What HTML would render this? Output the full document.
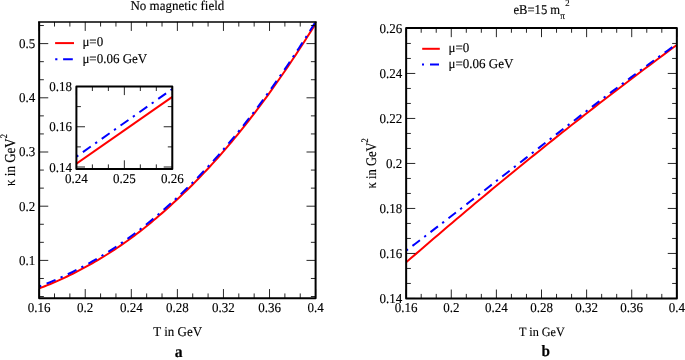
<!DOCTYPE html>
<html><head><meta charset="utf-8"><title>plot</title>
<style>html,body{margin:0;padding:0;background:#fff}svg{display:block}text{font-family:"Liberation Serif",serif;fill:#000;stroke:#000;stroke-width:0.13px;text-rendering:geometricPrecision}</style>
</head><body>
<svg width="685" height="360" viewBox="0 0 685 360">
<rect width="685" height="360" fill="#fff"/>
<clipPath id="c1"><rect x="39.15" y="21.85" width="276.45000000000005" height="276.29999999999995"/></clipPath>
<g clip-path="url(#c1)">
<path d="M39.15,288.42 L41.94,287.35 L44.73,286.25 L47.53,285.12 L50.32,283.97 L53.11,282.79 L55.90,281.59 L58.70,280.35 L61.49,279.09 L64.28,277.80 L67.07,276.49 L69.87,275.14 L72.66,273.77 L75.45,272.37 L78.24,270.94 L81.04,269.48 L83.83,267.99 L86.62,266.47 L89.41,264.92 L92.21,263.34 L95.00,261.74 L97.79,260.10 L100.58,258.43 L103.38,256.73 L106.17,255.00 L108.96,253.24 L111.75,251.44 L114.55,249.62 L117.34,247.76 L120.13,245.87 L122.92,243.94 L125.72,241.98 L128.51,239.99 L131.30,237.96 L134.09,235.89 L136.88,233.78 L139.68,231.63 L142.47,229.44 L145.26,227.22 L148.05,224.95 L150.85,222.65 L153.64,220.32 L156.43,217.95 L159.22,215.55 L162.02,213.12 L164.81,210.66 L167.60,208.17 L170.39,205.65 L173.19,203.11 L175.98,200.53 L178.77,197.94 L181.56,195.31 L184.36,192.64 L187.15,189.93 L189.94,187.19 L192.73,184.42 L195.53,181.60 L198.32,178.75 L201.11,175.86 L203.90,172.93 L206.70,169.96 L209.49,166.96 L212.28,163.92 L215.07,160.84 L217.87,157.72 L220.66,154.56 L223.45,151.36 L226.24,148.12 L229.03,144.85 L231.83,141.53 L234.62,138.18 L237.41,134.79 L240.20,131.35 L243.00,127.88 L245.79,124.37 L248.58,120.82 L251.37,117.22 L254.17,113.59 L256.96,109.91 L259.75,106.19 L262.54,102.43 L265.34,98.63 L268.13,94.79 L270.92,90.91 L273.71,86.99 L276.51,83.04 L279.30,79.05 L282.09,75.02 L284.88,70.96 L287.68,66.86 L290.47,62.72 L293.26,58.55 L296.05,54.33 L298.85,50.07 L301.64,45.78 L304.43,41.44 L307.22,37.06 L310.02,32.63 L312.81,28.17 L315.60,23.65" fill="none" stroke="#ff0000" stroke-width="2" stroke-linejoin="round"/>
<path d="M39.15,286.52 L41.94,285.45 L44.73,284.35 L47.53,283.23 L50.32,282.08 L53.11,280.90 L55.90,279.69 L58.70,278.46 L61.49,277.20 L64.28,275.91 L67.07,274.59 L69.87,273.25 L72.66,271.87 L75.45,270.47 L78.24,269.04 L81.04,267.58 L83.83,266.09 L86.62,264.57 L89.41,263.02 L92.21,261.45 L95.00,259.84 L97.79,258.20 L100.58,256.53 L103.38,254.83 L106.17,253.10 L108.96,251.34 L111.75,249.55 L114.55,247.72 L117.34,245.86 L120.13,243.97 L122.92,242.04 L125.72,240.08 L128.51,238.09 L131.30,236.06 L134.09,233.99 L136.88,231.88 L139.68,229.73 L142.47,227.55 L145.26,225.32 L148.05,223.06 L150.85,220.76 L153.64,218.42 L156.43,216.06 L159.22,213.65 L162.02,211.22 L164.81,208.76 L167.60,206.27 L170.39,203.75 L173.19,201.21 L175.98,198.64 L178.77,196.04 L181.56,193.41 L184.36,190.74 L187.15,188.04 L189.94,185.30 L192.73,182.52 L195.53,179.70 L198.32,176.85 L201.11,173.96 L203.90,171.03 L206.70,168.07 L209.49,165.06 L212.28,162.02 L215.07,158.94 L217.87,155.82 L220.66,152.66 L223.45,149.46 L226.24,146.23 L229.03,142.95 L231.83,139.64 L234.62,136.28 L237.41,132.89 L240.20,129.46 L243.00,125.98 L245.79,122.47 L248.58,118.92 L251.37,115.32 L254.17,111.69 L256.96,108.01 L259.75,104.30 L262.54,100.54 L265.34,96.74 L268.13,92.89 L270.92,89.01 L273.71,85.09 L276.51,81.14 L279.30,77.15 L282.09,73.13 L284.88,69.06 L287.68,64.96 L290.47,60.83 L293.26,56.65 L296.05,52.43 L298.85,48.18 L301.64,43.88 L304.43,39.54 L307.22,35.16 L310.02,30.74 L312.81,26.27 L315.60,21.76" fill="none" stroke="#0000ff" stroke-width="2" stroke-dasharray="2.3 5.7 9.7 5.47" stroke-linejoin="round"/>
</g>
<line x1="39.15" y1="298.15" x2="39.15" y2="289.05" stroke="#000" stroke-width="0.85"/>
<line x1="39.15" y1="21.85" x2="39.15" y2="30.95" stroke="#000" stroke-width="0.85"/>
<line x1="85.23" y1="298.15" x2="85.23" y2="289.05" stroke="#000" stroke-width="0.85"/>
<line x1="85.23" y1="21.85" x2="85.23" y2="30.95" stroke="#000" stroke-width="0.85"/>
<line x1="131.30" y1="298.15" x2="131.30" y2="289.05" stroke="#000" stroke-width="0.85"/>
<line x1="131.30" y1="21.85" x2="131.30" y2="30.95" stroke="#000" stroke-width="0.85"/>
<line x1="177.38" y1="298.15" x2="177.38" y2="289.05" stroke="#000" stroke-width="0.85"/>
<line x1="177.38" y1="21.85" x2="177.38" y2="30.95" stroke="#000" stroke-width="0.85"/>
<line x1="223.45" y1="298.15" x2="223.45" y2="289.05" stroke="#000" stroke-width="0.85"/>
<line x1="223.45" y1="21.85" x2="223.45" y2="30.95" stroke="#000" stroke-width="0.85"/>
<line x1="269.53" y1="298.15" x2="269.53" y2="289.05" stroke="#000" stroke-width="0.85"/>
<line x1="269.53" y1="21.85" x2="269.53" y2="30.95" stroke="#000" stroke-width="0.85"/>
<line x1="315.60" y1="298.15" x2="315.60" y2="289.05" stroke="#000" stroke-width="0.85"/>
<line x1="315.60" y1="21.85" x2="315.60" y2="30.95" stroke="#000" stroke-width="0.85"/>
<line x1="54.51" y1="298.15" x2="54.51" y2="293.45" stroke="#000" stroke-width="0.85"/>
<line x1="54.51" y1="21.85" x2="54.51" y2="26.55" stroke="#000" stroke-width="0.85"/>
<line x1="69.87" y1="298.15" x2="69.87" y2="293.45" stroke="#000" stroke-width="0.85"/>
<line x1="69.87" y1="21.85" x2="69.87" y2="26.55" stroke="#000" stroke-width="0.85"/>
<line x1="100.58" y1="298.15" x2="100.58" y2="293.45" stroke="#000" stroke-width="0.85"/>
<line x1="100.58" y1="21.85" x2="100.58" y2="26.55" stroke="#000" stroke-width="0.85"/>
<line x1="115.94" y1="298.15" x2="115.94" y2="293.45" stroke="#000" stroke-width="0.85"/>
<line x1="115.94" y1="21.85" x2="115.94" y2="26.55" stroke="#000" stroke-width="0.85"/>
<line x1="146.66" y1="298.15" x2="146.66" y2="293.45" stroke="#000" stroke-width="0.85"/>
<line x1="146.66" y1="21.85" x2="146.66" y2="26.55" stroke="#000" stroke-width="0.85"/>
<line x1="162.02" y1="298.15" x2="162.02" y2="293.45" stroke="#000" stroke-width="0.85"/>
<line x1="162.02" y1="21.85" x2="162.02" y2="26.55" stroke="#000" stroke-width="0.85"/>
<line x1="192.73" y1="298.15" x2="192.73" y2="293.45" stroke="#000" stroke-width="0.85"/>
<line x1="192.73" y1="21.85" x2="192.73" y2="26.55" stroke="#000" stroke-width="0.85"/>
<line x1="208.09" y1="298.15" x2="208.09" y2="293.45" stroke="#000" stroke-width="0.85"/>
<line x1="208.09" y1="21.85" x2="208.09" y2="26.55" stroke="#000" stroke-width="0.85"/>
<line x1="238.81" y1="298.15" x2="238.81" y2="293.45" stroke="#000" stroke-width="0.85"/>
<line x1="238.81" y1="21.85" x2="238.81" y2="26.55" stroke="#000" stroke-width="0.85"/>
<line x1="254.17" y1="298.15" x2="254.17" y2="293.45" stroke="#000" stroke-width="0.85"/>
<line x1="254.17" y1="21.85" x2="254.17" y2="26.55" stroke="#000" stroke-width="0.85"/>
<line x1="284.88" y1="298.15" x2="284.88" y2="293.45" stroke="#000" stroke-width="0.85"/>
<line x1="284.88" y1="21.85" x2="284.88" y2="26.55" stroke="#000" stroke-width="0.85"/>
<line x1="300.24" y1="298.15" x2="300.24" y2="293.45" stroke="#000" stroke-width="0.85"/>
<line x1="300.24" y1="21.85" x2="300.24" y2="26.55" stroke="#000" stroke-width="0.85"/>
<line x1="39.15" y1="260.40" x2="48.25" y2="260.40" stroke="#000" stroke-width="0.85"/>
<line x1="315.60" y1="260.40" x2="306.50" y2="260.40" stroke="#000" stroke-width="0.85"/>
<line x1="39.15" y1="206.20" x2="48.25" y2="206.20" stroke="#000" stroke-width="0.85"/>
<line x1="315.60" y1="206.20" x2="306.50" y2="206.20" stroke="#000" stroke-width="0.85"/>
<line x1="39.15" y1="152.00" x2="48.25" y2="152.00" stroke="#000" stroke-width="0.85"/>
<line x1="315.60" y1="152.00" x2="306.50" y2="152.00" stroke="#000" stroke-width="0.85"/>
<line x1="39.15" y1="97.80" x2="48.25" y2="97.80" stroke="#000" stroke-width="0.85"/>
<line x1="315.60" y1="97.80" x2="306.50" y2="97.80" stroke="#000" stroke-width="0.85"/>
<line x1="39.15" y1="43.60" x2="48.25" y2="43.60" stroke="#000" stroke-width="0.85"/>
<line x1="315.60" y1="43.60" x2="306.50" y2="43.60" stroke="#000" stroke-width="0.85"/>
<line x1="39.15" y1="296.53" x2="43.85" y2="296.53" stroke="#000" stroke-width="0.85"/>
<line x1="315.60" y1="296.53" x2="310.90" y2="296.53" stroke="#000" stroke-width="0.85"/>
<line x1="39.15" y1="278.47" x2="43.85" y2="278.47" stroke="#000" stroke-width="0.85"/>
<line x1="315.60" y1="278.47" x2="310.90" y2="278.47" stroke="#000" stroke-width="0.85"/>
<line x1="39.15" y1="242.33" x2="43.85" y2="242.33" stroke="#000" stroke-width="0.85"/>
<line x1="315.60" y1="242.33" x2="310.90" y2="242.33" stroke="#000" stroke-width="0.85"/>
<line x1="39.15" y1="224.27" x2="43.85" y2="224.27" stroke="#000" stroke-width="0.85"/>
<line x1="315.60" y1="224.27" x2="310.90" y2="224.27" stroke="#000" stroke-width="0.85"/>
<line x1="39.15" y1="188.13" x2="43.85" y2="188.13" stroke="#000" stroke-width="0.85"/>
<line x1="315.60" y1="188.13" x2="310.90" y2="188.13" stroke="#000" stroke-width="0.85"/>
<line x1="39.15" y1="170.07" x2="43.85" y2="170.07" stroke="#000" stroke-width="0.85"/>
<line x1="315.60" y1="170.07" x2="310.90" y2="170.07" stroke="#000" stroke-width="0.85"/>
<line x1="39.15" y1="133.93" x2="43.85" y2="133.93" stroke="#000" stroke-width="0.85"/>
<line x1="315.60" y1="133.93" x2="310.90" y2="133.93" stroke="#000" stroke-width="0.85"/>
<line x1="39.15" y1="115.87" x2="43.85" y2="115.87" stroke="#000" stroke-width="0.85"/>
<line x1="315.60" y1="115.87" x2="310.90" y2="115.87" stroke="#000" stroke-width="0.85"/>
<line x1="39.15" y1="79.73" x2="43.85" y2="79.73" stroke="#000" stroke-width="0.85"/>
<line x1="315.60" y1="79.73" x2="310.90" y2="79.73" stroke="#000" stroke-width="0.85"/>
<line x1="39.15" y1="61.67" x2="43.85" y2="61.67" stroke="#000" stroke-width="0.85"/>
<line x1="315.60" y1="61.67" x2="310.90" y2="61.67" stroke="#000" stroke-width="0.85"/>
<line x1="39.15" y1="25.53" x2="43.85" y2="25.53" stroke="#000" stroke-width="0.85"/>
<line x1="315.60" y1="25.53" x2="310.90" y2="25.53" stroke="#000" stroke-width="0.85"/>
<path d="M39.15,21.85 V298.15 H315.6 V21.85" fill="none" stroke="#000" stroke-width="2" stroke-linejoin="round"/>
<line x1="38.15" y1="22.05" x2="316.6" y2="22.05" stroke="#000" stroke-width="1.6"/>
<text transform="translate(39.15,312.35) scale(1,1.04)" text-anchor="middle" font-size="13" >0.16</text>
<text transform="translate(85.23,312.35) scale(1,1.04)" text-anchor="middle" font-size="13" >0.2</text>
<text transform="translate(131.30,312.35) scale(1,1.04)" text-anchor="middle" font-size="13" >0.24</text>
<text transform="translate(177.38,312.35) scale(1,1.04)" text-anchor="middle" font-size="13" >0.28</text>
<text transform="translate(223.45,312.35) scale(1,1.04)" text-anchor="middle" font-size="13" >0.32</text>
<text transform="translate(269.53,312.35) scale(1,1.04)" text-anchor="middle" font-size="13" >0.36</text>
<text transform="translate(315.60,312.35) scale(1,1.04)" text-anchor="middle" font-size="13" >0.4</text>
<text transform="translate(35.15,264.80) scale(1,1.04)" text-anchor="end" font-size="13" >0.1</text>
<text transform="translate(35.15,210.60) scale(1,1.04)" text-anchor="end" font-size="13" >0.2</text>
<text transform="translate(35.15,156.40) scale(1,1.04)" text-anchor="end" font-size="13" >0.3</text>
<text transform="translate(35.15,102.20) scale(1,1.04)" text-anchor="end" font-size="13" >0.4</text>
<text transform="translate(35.15,48.00) scale(1,1.04)" text-anchor="end" font-size="13" >0.5</text>
<text transform="translate(177.38,9.60) scale(1,1.04)" text-anchor="middle" font-size="13" >No magnetic field</text>
<text transform="translate(177.68,335.90) scale(1,1.04)" text-anchor="middle" font-size="13" >T in GeV</text>
<text transform="translate(178.68,356.80) scale(1,1.04)" text-anchor="middle" font-size="15.7" font-weight="bold">a</text>
<text transform="translate(14.6,160.0) rotate(-90) scale(1,1.17)" font-size="13" text-anchor="middle">κ in GeV<tspan dy="-6.3" font-size="8.5">2</tspan></text>
<line x1="55.10" y1="43.10" x2="74.00" y2="43.10" stroke="#ff0000" stroke-width="2"/>
<path d="M55.2,59.3 h18" stroke="#0000ff" stroke-width="2" stroke-dasharray="2.2 5.7 9.7 5" fill="none"/>
<text transform="translate(82.40,46.00) scale(1,1.04)" text-anchor="start" font-size="13" >μ=0</text>
<text transform="translate(82.40,62.50) scale(1,1.04)" text-anchor="start" font-size="13" >μ=0.06 GeV</text>
<rect x="76.4" y="86.5" width="95.9" height="82.4" fill="#fff"/>
<clipPath id="c2"><rect x="76.4" y="86.5" width="95.9" height="82.4"/></clipPath>
<g clip-path="url(#c2)">
<path d="M76.40,163.80 L172.30,96.90" fill="none" stroke="#ff0000" stroke-width="2" stroke-linejoin="round"/>
<path d="M76.40,156.70 L172.30,89.00" fill="none" stroke="#0000ff" stroke-width="2" stroke-dasharray="2.3 5.65 9.65 5.45" stroke-linejoin="round"/>
</g>
<line x1="76.40" y1="168.90" x2="76.40" y2="160.30" stroke="#000" stroke-width="0.85"/>
<line x1="76.40" y1="86.50" x2="76.40" y2="95.10" stroke="#000" stroke-width="0.85"/>
<line x1="124.35" y1="168.90" x2="124.35" y2="160.30" stroke="#000" stroke-width="0.85"/>
<line x1="124.35" y1="86.50" x2="124.35" y2="95.10" stroke="#000" stroke-width="0.85"/>
<line x1="172.30" y1="168.90" x2="172.30" y2="160.30" stroke="#000" stroke-width="0.85"/>
<line x1="172.30" y1="86.50" x2="172.30" y2="95.10" stroke="#000" stroke-width="0.85"/>
<line x1="92.38" y1="168.90" x2="92.38" y2="164.40" stroke="#000" stroke-width="0.85"/>
<line x1="92.38" y1="86.50" x2="92.38" y2="91.00" stroke="#000" stroke-width="0.85"/>
<line x1="108.37" y1="168.90" x2="108.37" y2="164.40" stroke="#000" stroke-width="0.85"/>
<line x1="108.37" y1="86.50" x2="108.37" y2="91.00" stroke="#000" stroke-width="0.85"/>
<line x1="140.33" y1="168.90" x2="140.33" y2="164.40" stroke="#000" stroke-width="0.85"/>
<line x1="140.33" y1="86.50" x2="140.33" y2="91.00" stroke="#000" stroke-width="0.85"/>
<line x1="156.32" y1="168.90" x2="156.32" y2="164.40" stroke="#000" stroke-width="0.85"/>
<line x1="156.32" y1="86.50" x2="156.32" y2="91.00" stroke="#000" stroke-width="0.85"/>
<line x1="76.40" y1="167.00" x2="85.00" y2="167.00" stroke="#000" stroke-width="0.85"/>
<line x1="172.30" y1="167.00" x2="163.70" y2="167.00" stroke="#000" stroke-width="0.85"/>
<line x1="76.40" y1="126.75" x2="85.00" y2="126.75" stroke="#000" stroke-width="0.85"/>
<line x1="172.30" y1="126.75" x2="163.70" y2="126.75" stroke="#000" stroke-width="0.85"/>
<line x1="76.40" y1="86.50" x2="85.00" y2="86.50" stroke="#000" stroke-width="0.85"/>
<line x1="172.30" y1="86.50" x2="163.70" y2="86.50" stroke="#000" stroke-width="0.85"/>
<line x1="76.40" y1="146.88" x2="80.90" y2="146.88" stroke="#000" stroke-width="0.85"/>
<line x1="172.30" y1="146.88" x2="167.80" y2="146.88" stroke="#000" stroke-width="0.85"/>
<line x1="76.40" y1="106.62" x2="80.90" y2="106.62" stroke="#000" stroke-width="0.85"/>
<line x1="172.30" y1="106.62" x2="167.80" y2="106.62" stroke="#000" stroke-width="0.85"/>
<rect x="76.4" y="86.5" width="95.9" height="82.4" fill="none" stroke="#000" stroke-width="2" stroke-linejoin="round"/>
<text transform="translate(76.40,182.60) scale(1,1.04)" text-anchor="middle" font-size="13" >0.24</text>
<text transform="translate(124.35,182.60) scale(1,1.04)" text-anchor="middle" font-size="13" >0.25</text>
<text transform="translate(172.30,182.60) scale(1,1.04)" text-anchor="middle" font-size="13" >0.26</text>
<text transform="translate(72.10,171.50) scale(1,1.04)" text-anchor="end" font-size="13" >0.14</text>
<text transform="translate(72.10,131.25) scale(1,1.04)" text-anchor="end" font-size="13" >0.16</text>
<text transform="translate(72.10,91.00) scale(1,1.04)" text-anchor="end" font-size="13" >0.18</text>
<clipPath id="c3"><rect x="406.15" y="28.05" width="270.70000000000005" height="270.55"/></clipPath>
<g clip-path="url(#c3)">
<path d="M406.15,262.35 L410.74,258.36 L415.33,254.38 L419.91,250.41 L424.50,246.46 L429.09,242.51 L433.68,238.57 L438.27,234.64 L442.86,230.72 L447.44,226.82 L452.03,222.92 L456.62,219.04 L461.21,215.16 L465.80,211.30 L470.38,207.45 L474.97,203.60 L479.56,199.77 L484.15,195.95 L488.74,192.14 L493.32,188.34 L497.91,184.54 L502.50,180.77 L507.09,177.00 L511.68,173.24 L516.27,169.49 L520.85,165.75 L525.44,162.02 L530.03,158.31 L534.62,154.60 L539.21,150.91 L543.79,147.22 L548.38,143.55 L552.97,139.88 L557.56,136.23 L562.15,132.59 L566.73,128.95 L571.32,125.33 L575.91,121.72 L580.50,118.12 L585.09,114.53 L589.68,110.95 L594.26,107.38 L598.85,103.82 L603.44,100.27 L608.03,96.74 L612.62,93.21 L617.20,89.69 L621.79,86.19 L626.38,82.69 L630.97,79.21 L635.56,75.73 L640.14,72.27 L644.73,68.82 L649.32,65.37 L653.91,61.94 L658.50,58.52 L663.09,55.11 L667.67,51.71 L672.26,48.32 L676.85,44.94" fill="none" stroke="#ff0000" stroke-width="2" stroke-linejoin="round"/>
<path d="M406.15,250.64 L410.74,247.16 L415.33,243.68 L419.91,240.19 L424.50,236.69 L429.09,233.18 L433.68,229.66 L438.27,226.14 L442.86,222.60 L447.44,219.07 L452.03,215.52 L456.62,211.97 L461.21,208.42 L465.80,204.85 L470.38,201.29 L474.97,197.72 L479.56,194.15 L484.15,190.58 L488.74,187.00 L493.32,183.42 L497.91,179.84 L502.50,176.26 L507.09,172.68 L511.68,169.09 L516.27,165.51 L520.85,161.93 L525.44,158.35 L530.03,154.77 L534.62,151.20 L539.21,147.62 L543.79,144.05 L548.38,140.48 L552.97,136.92 L557.56,133.36 L562.15,129.81 L566.73,126.26 L571.32,122.72 L575.91,119.18 L580.50,115.65 L585.09,112.13 L589.68,108.61 L594.26,105.10 L598.85,101.60 L603.44,98.11 L608.03,94.63 L612.62,91.16 L617.20,87.70 L621.79,84.25 L626.38,80.81 L630.97,77.39 L635.56,73.97 L640.14,70.57 L644.73,67.18 L649.32,63.81 L653.91,60.44 L658.50,57.10 L663.09,53.76 L667.67,50.45 L672.26,47.15 L676.85,43.86" fill="none" stroke="#0000ff" stroke-width="2" stroke-dasharray="2.3 5.6 9.4 5.4" stroke-linejoin="round"/>
</g>
<line x1="406.15" y1="298.60" x2="406.15" y2="289.50" stroke="#000" stroke-width="0.85"/>
<line x1="406.15" y1="28.05" x2="406.15" y2="37.15" stroke="#000" stroke-width="0.85"/>
<line x1="451.27" y1="298.60" x2="451.27" y2="289.50" stroke="#000" stroke-width="0.85"/>
<line x1="451.27" y1="28.05" x2="451.27" y2="37.15" stroke="#000" stroke-width="0.85"/>
<line x1="496.38" y1="298.60" x2="496.38" y2="289.50" stroke="#000" stroke-width="0.85"/>
<line x1="496.38" y1="28.05" x2="496.38" y2="37.15" stroke="#000" stroke-width="0.85"/>
<line x1="541.50" y1="298.60" x2="541.50" y2="289.50" stroke="#000" stroke-width="0.85"/>
<line x1="541.50" y1="28.05" x2="541.50" y2="37.15" stroke="#000" stroke-width="0.85"/>
<line x1="586.62" y1="298.60" x2="586.62" y2="289.50" stroke="#000" stroke-width="0.85"/>
<line x1="586.62" y1="28.05" x2="586.62" y2="37.15" stroke="#000" stroke-width="0.85"/>
<line x1="631.73" y1="298.60" x2="631.73" y2="289.50" stroke="#000" stroke-width="0.85"/>
<line x1="631.73" y1="28.05" x2="631.73" y2="37.15" stroke="#000" stroke-width="0.85"/>
<line x1="676.85" y1="298.60" x2="676.85" y2="289.50" stroke="#000" stroke-width="0.85"/>
<line x1="676.85" y1="28.05" x2="676.85" y2="37.15" stroke="#000" stroke-width="0.85"/>
<line x1="421.19" y1="298.60" x2="421.19" y2="293.90" stroke="#000" stroke-width="0.85"/>
<line x1="421.19" y1="28.05" x2="421.19" y2="32.75" stroke="#000" stroke-width="0.85"/>
<line x1="436.23" y1="298.60" x2="436.23" y2="293.90" stroke="#000" stroke-width="0.85"/>
<line x1="436.23" y1="28.05" x2="436.23" y2="32.75" stroke="#000" stroke-width="0.85"/>
<line x1="466.31" y1="298.60" x2="466.31" y2="293.90" stroke="#000" stroke-width="0.85"/>
<line x1="466.31" y1="28.05" x2="466.31" y2="32.75" stroke="#000" stroke-width="0.85"/>
<line x1="481.34" y1="298.60" x2="481.34" y2="293.90" stroke="#000" stroke-width="0.85"/>
<line x1="481.34" y1="28.05" x2="481.34" y2="32.75" stroke="#000" stroke-width="0.85"/>
<line x1="511.42" y1="298.60" x2="511.42" y2="293.90" stroke="#000" stroke-width="0.85"/>
<line x1="511.42" y1="28.05" x2="511.42" y2="32.75" stroke="#000" stroke-width="0.85"/>
<line x1="526.46" y1="298.60" x2="526.46" y2="293.90" stroke="#000" stroke-width="0.85"/>
<line x1="526.46" y1="28.05" x2="526.46" y2="32.75" stroke="#000" stroke-width="0.85"/>
<line x1="556.54" y1="298.60" x2="556.54" y2="293.90" stroke="#000" stroke-width="0.85"/>
<line x1="556.54" y1="28.05" x2="556.54" y2="32.75" stroke="#000" stroke-width="0.85"/>
<line x1="571.58" y1="298.60" x2="571.58" y2="293.90" stroke="#000" stroke-width="0.85"/>
<line x1="571.58" y1="28.05" x2="571.58" y2="32.75" stroke="#000" stroke-width="0.85"/>
<line x1="601.66" y1="298.60" x2="601.66" y2="293.90" stroke="#000" stroke-width="0.85"/>
<line x1="601.66" y1="28.05" x2="601.66" y2="32.75" stroke="#000" stroke-width="0.85"/>
<line x1="616.69" y1="298.60" x2="616.69" y2="293.90" stroke="#000" stroke-width="0.85"/>
<line x1="616.69" y1="28.05" x2="616.69" y2="32.75" stroke="#000" stroke-width="0.85"/>
<line x1="646.77" y1="298.60" x2="646.77" y2="293.90" stroke="#000" stroke-width="0.85"/>
<line x1="646.77" y1="28.05" x2="646.77" y2="32.75" stroke="#000" stroke-width="0.85"/>
<line x1="661.81" y1="298.60" x2="661.81" y2="293.90" stroke="#000" stroke-width="0.85"/>
<line x1="661.81" y1="28.05" x2="661.81" y2="32.75" stroke="#000" stroke-width="0.85"/>
<line x1="406.15" y1="298.44" x2="415.25" y2="298.44" stroke="#000" stroke-width="0.85"/>
<line x1="676.85" y1="298.44" x2="667.75" y2="298.44" stroke="#000" stroke-width="0.85"/>
<line x1="406.15" y1="253.44" x2="415.25" y2="253.44" stroke="#000" stroke-width="0.85"/>
<line x1="676.85" y1="253.44" x2="667.75" y2="253.44" stroke="#000" stroke-width="0.85"/>
<line x1="406.15" y1="208.44" x2="415.25" y2="208.44" stroke="#000" stroke-width="0.85"/>
<line x1="676.85" y1="208.44" x2="667.75" y2="208.44" stroke="#000" stroke-width="0.85"/>
<line x1="406.15" y1="163.44" x2="415.25" y2="163.44" stroke="#000" stroke-width="0.85"/>
<line x1="676.85" y1="163.44" x2="667.75" y2="163.44" stroke="#000" stroke-width="0.85"/>
<line x1="406.15" y1="118.44" x2="415.25" y2="118.44" stroke="#000" stroke-width="0.85"/>
<line x1="676.85" y1="118.44" x2="667.75" y2="118.44" stroke="#000" stroke-width="0.85"/>
<line x1="406.15" y1="73.44" x2="415.25" y2="73.44" stroke="#000" stroke-width="0.85"/>
<line x1="676.85" y1="73.44" x2="667.75" y2="73.44" stroke="#000" stroke-width="0.85"/>
<line x1="406.15" y1="28.44" x2="415.25" y2="28.44" stroke="#000" stroke-width="0.85"/>
<line x1="676.85" y1="28.44" x2="667.75" y2="28.44" stroke="#000" stroke-width="0.85"/>
<line x1="406.15" y1="283.44" x2="410.85" y2="283.44" stroke="#000" stroke-width="0.85"/>
<line x1="676.85" y1="283.44" x2="672.15" y2="283.44" stroke="#000" stroke-width="0.85"/>
<line x1="406.15" y1="268.44" x2="410.85" y2="268.44" stroke="#000" stroke-width="0.85"/>
<line x1="676.85" y1="268.44" x2="672.15" y2="268.44" stroke="#000" stroke-width="0.85"/>
<line x1="406.15" y1="238.44" x2="410.85" y2="238.44" stroke="#000" stroke-width="0.85"/>
<line x1="676.85" y1="238.44" x2="672.15" y2="238.44" stroke="#000" stroke-width="0.85"/>
<line x1="406.15" y1="223.44" x2="410.85" y2="223.44" stroke="#000" stroke-width="0.85"/>
<line x1="676.85" y1="223.44" x2="672.15" y2="223.44" stroke="#000" stroke-width="0.85"/>
<line x1="406.15" y1="193.44" x2="410.85" y2="193.44" stroke="#000" stroke-width="0.85"/>
<line x1="676.85" y1="193.44" x2="672.15" y2="193.44" stroke="#000" stroke-width="0.85"/>
<line x1="406.15" y1="178.44" x2="410.85" y2="178.44" stroke="#000" stroke-width="0.85"/>
<line x1="676.85" y1="178.44" x2="672.15" y2="178.44" stroke="#000" stroke-width="0.85"/>
<line x1="406.15" y1="148.44" x2="410.85" y2="148.44" stroke="#000" stroke-width="0.85"/>
<line x1="676.85" y1="148.44" x2="672.15" y2="148.44" stroke="#000" stroke-width="0.85"/>
<line x1="406.15" y1="133.44" x2="410.85" y2="133.44" stroke="#000" stroke-width="0.85"/>
<line x1="676.85" y1="133.44" x2="672.15" y2="133.44" stroke="#000" stroke-width="0.85"/>
<line x1="406.15" y1="103.44" x2="410.85" y2="103.44" stroke="#000" stroke-width="0.85"/>
<line x1="676.85" y1="103.44" x2="672.15" y2="103.44" stroke="#000" stroke-width="0.85"/>
<line x1="406.15" y1="88.44" x2="410.85" y2="88.44" stroke="#000" stroke-width="0.85"/>
<line x1="676.85" y1="88.44" x2="672.15" y2="88.44" stroke="#000" stroke-width="0.85"/>
<line x1="406.15" y1="58.44" x2="410.85" y2="58.44" stroke="#000" stroke-width="0.85"/>
<line x1="676.85" y1="58.44" x2="672.15" y2="58.44" stroke="#000" stroke-width="0.85"/>
<line x1="406.15" y1="43.44" x2="410.85" y2="43.44" stroke="#000" stroke-width="0.85"/>
<line x1="676.85" y1="43.44" x2="672.15" y2="43.44" stroke="#000" stroke-width="0.85"/>
<rect x="406.15" y="28.05" width="270.70000000000005" height="270.55" fill="none" stroke="#000" stroke-width="2" stroke-linejoin="round"/>
<text transform="translate(406.15,311.50) scale(1,1.04)" text-anchor="middle" font-size="13" >0.16</text>
<text transform="translate(451.27,311.50) scale(1,1.04)" text-anchor="middle" font-size="13" >0.2</text>
<text transform="translate(496.38,311.50) scale(1,1.04)" text-anchor="middle" font-size="13" >0.24</text>
<text transform="translate(541.50,311.50) scale(1,1.04)" text-anchor="middle" font-size="13" >0.28</text>
<text transform="translate(586.62,311.50) scale(1,1.04)" text-anchor="middle" font-size="13" >0.32</text>
<text transform="translate(631.73,311.50) scale(1,1.04)" text-anchor="middle" font-size="13" >0.36</text>
<text transform="translate(676.85,311.50) scale(1,1.04)" text-anchor="middle" font-size="13" >0.4</text>
<text transform="translate(402.15,302.84) scale(1,1.04)" text-anchor="end" font-size="13" >0.14</text>
<text transform="translate(402.15,257.84) scale(1,1.04)" text-anchor="end" font-size="13" >0.16</text>
<text transform="translate(402.15,212.84) scale(1,1.04)" text-anchor="end" font-size="13" >0.18</text>
<text transform="translate(402.15,167.84) scale(1,1.04)" text-anchor="end" font-size="13" >0.2</text>
<text transform="translate(402.15,122.84) scale(1,1.04)" text-anchor="end" font-size="13" >0.22</text>
<text transform="translate(402.15,77.84) scale(1,1.04)" text-anchor="end" font-size="13" >0.24</text>
<text transform="translate(402.15,32.84) scale(1,1.04)" text-anchor="end" font-size="13" >0.26</text>
<text transform="translate(541.90,335.60) scale(1,1.04)" text-anchor="middle" font-size="12.2" >T in GeV</text>
<text transform="translate(545.70,356.10) scale(1,1.04)" text-anchor="middle" font-size="15.3" font-weight="bold">b</text>
<text transform="translate(541.5,13.9) scale(1,1.07)" font-size="12.6" text-anchor="middle">eB=15 m<tspan dy="4.8" font-size="9.3">π</tspan><tspan dy="-12.3" dx="0.3" font-size="8.7">2</tspan></text>
<text transform="translate(375.8,163.32500000000002) rotate(-90) scale(1,1.17)" font-size="12.55" text-anchor="middle">κ in GeV<tspan dy="-6.7" font-size="8.5">2</tspan></text>
<line x1="422.20" y1="48.80" x2="439.80" y2="48.80" stroke="#ff0000" stroke-width="2"/>
<path d="M422,64.5 h18" stroke="#0000ff" stroke-width="2" stroke-dasharray="2 6 9 5" fill="none"/>
<text transform="translate(448.50,52.00) scale(1,1.04)" text-anchor="start" font-size="13" >μ=0</text>
<text transform="translate(448.50,68.30) scale(1,1.04)" text-anchor="start" font-size="13" >μ=0.06 GeV</text>
</svg>
</body></html>
